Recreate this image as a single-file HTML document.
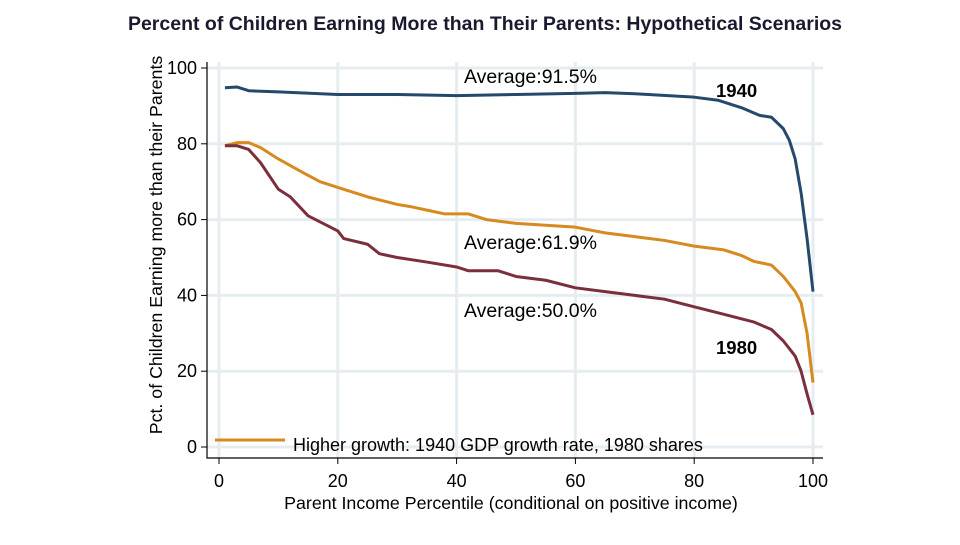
<!DOCTYPE html>
<html><head><meta charset="utf-8"><style>
body{margin:0;background:#fff;width:960px;height:540px;overflow:hidden;font-family:"Liberation Sans",sans-serif}
</style></head><body>
<svg width="960" height="540" font-family="Liberation Sans, sans-serif">
<text x="485" y="30" text-anchor="middle" font-size="19.5" font-weight="bold" fill="#1a1a2e">Percent of Children Earning More than Their Parents: Hypothetical Scenarios</text>
<g id="grid"></g>
<g id="axes"></g>
<g id="series"></g>
<text transform="translate(162,245) rotate(-90)" text-anchor="middle" font-size="17.8" fill="#000">Pct. of Children Earning more than their Parents</text>
<text x="511" y="509" text-anchor="middle" font-size="17.8" fill="#000">Parent Income Percentile (conditional on positive income)</text>
<text x="464" y="83" font-size="19.5" fill="#000">Average:91.5%</text>
<text x="716" y="97" font-size="18.5" font-weight="bold" fill="#000">1940</text>
<text x="464" y="249" font-size="19.5" fill="#000">Average:61.9%</text>
<text x="464" y="317" font-size="19.5" fill="#000">Average:50.0%</text>
<text x="716" y="354" font-size="18.5" font-weight="bold" fill="#000">1980</text>
<line x1="215" y1="440" x2="285" y2="440" stroke="#d68a1f" stroke-width="3"/>
<text x="293" y="451" font-size="18" fill="#000">Higher growth: 1940 GDP growth rate, 1980 shares</text>
</svg>
<script>
const xTicks=[0,20,40,60,80,100];
const yTicks=[0,20,40,60,80,100];
const pct1940=[1,3,5,10,20,30,40,50,60,65,70,80,84,88,91,93,95,96,97,98,99,100];
const val1940=[94.8,95,94,93.7,93,93,92.7,93,93.3,93.5,93.2,92.3,91.5,89.5,87.5,87,84,81,76,67,55,41];
const pctHigh=[1,3,5,7,10,14,17,20,25,30,32,35,38,42,45,50,55,60,65,70,75,80,85,88,90,93,95,97,98,99,100];
const valHigh=[79.5,80.3,80.3,79,76,72.5,70,68.5,66,64,63.5,62.5,61.5,61.5,60,59,58.5,58,56.5,55.5,54.5,53,52,50.5,49,48,45,41,38,30,17];
const pct1980=[1,3,5,7,10,12,15,20,21,25,27,30,35,40,42,47,50,55,60,65,70,75,80,85,90,93,95,97,98,99,100];
const val1980=[79.5,79.5,78.5,75,68,66,61,57,55,53.5,51,50,48.8,47.5,46.5,46.5,45,44,42,41,40,39,37,35,33,31,28,24,20,14,8.5];
const NS='http://www.w3.org/2000/svg';
const X=v=>219+5.94*v, Y=v=>447-3.79*v;
function mk(t,a,p){const e=document.createElementNS(NS,t);for(const k in a)e.setAttribute(k,a[k]);p.appendChild(e);return e;}
const grid=document.getElementById('grid'),axes=document.getElementById('axes'),ser=document.getElementById('series');
xTicks.forEach(t=>{const g=mk('line',{x1:X(t),x2:X(t),y1:62,y2:458,stroke:'#e6edf1','stroke-width':3},grid);


const k=mk('line',{x1:X(t),x2:X(t),y1:458,y2:464,stroke:'#000'},axes);


const l=mk('text',{x:X(t),y:487,'text-anchor':'middle','font-size':18},axes);l.textContent=t;

});
yTicks.forEach(t=>{const g=mk('line',{x1:207,x2:823,y1:Y(t),y2:Y(t),stroke:'#e6edf1','stroke-width':3},grid);


const k=mk('line',{x1:201,x2:207,y1:Y(t),y2:Y(t),stroke:'#000'},axes);


const l=mk('text',{x:197,y:Y(t)+6,'text-anchor':'end','font-size':18},axes);l.textContent=t;

});
const ax=mk('path',{d:'M207 62 V458 H823',fill:'none',stroke:'#000','stroke-width':1.2},axes);


function line(xs,ys,c,n){const p=mk('polyline',{points:xs.map((x,i)=>X(x)+','+Y(ys[i])).join(' '),fill:'none',stroke:c,'stroke-width':3,'stroke-linejoin':'round'},ser);

}
line(pct1940,val1940,'#24496a','line-1940');
line(pctHigh,valHigh,'#d68a1f','line-higher-growth');
line(pct1980,val1980,'#7b2f3c','line-1980');
</script>
</body></html>
